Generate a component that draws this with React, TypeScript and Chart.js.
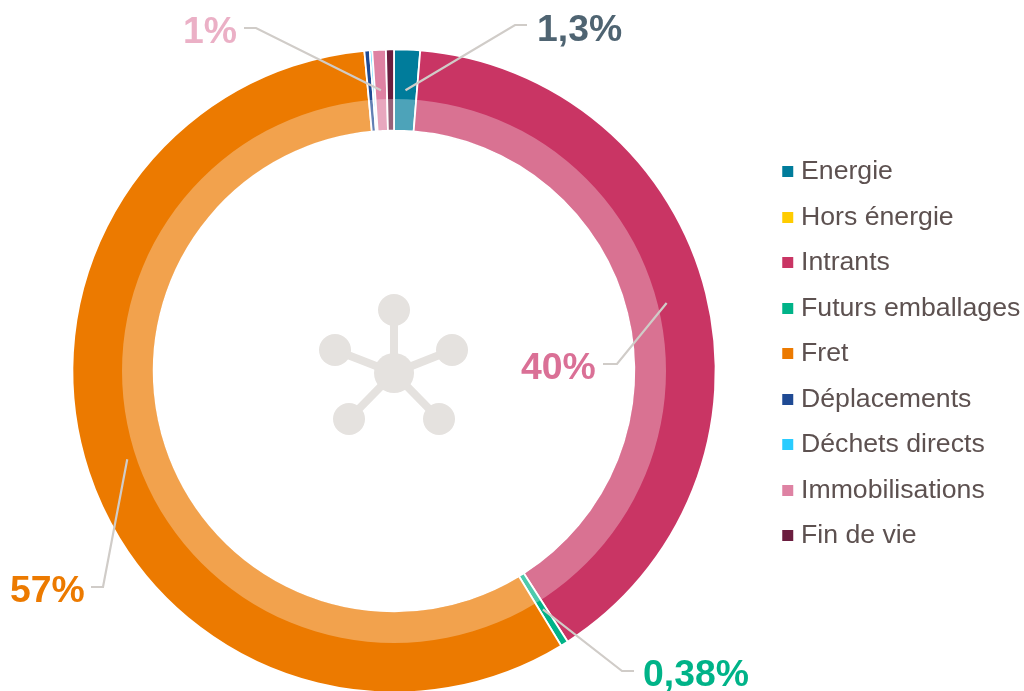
import React, { useEffect, useRef } from "react";
import { Chart, registerables } from "chart.js";

Chart.register(...registerables);

const categories = ["Energie", "Hors énergie", "Intrants", "Futurs emballages", "Fret", "Déplacements", "Déchets directs", "Immobilisations", "Fin de vie"];
const values = [1.3, 0, 39.6, 0.38, 57.2, 0.27, 0.12, 0.68, 0.4];
const colors = ["#007C9B", "#FFCC00", "#C93564", "#00B388", "#EC7A00", "#1F4A94", "#29CCFF", "#DE82A3", "#6B1D3F"];

const calloutTexts = ["1,3%", "40%", "0,38%", "57%", "1%"];
const calloutSlices = [0, 2, 3, 4, 7];
const calloutColors = ["#4F6472", "#DA7096", "#00B388", "#EC7A00", "#EBB0C6"];
// elbow, end of leader, and text anchor for each callout
const calloutLayout = [
  { elbow: [515, 25], end: [527, 25], tx: 537, ty: 41 },
  { elbow: [617, 364], end: [603, 364], tx: 521, ty: 379 },
  { elbow: [622, 671], end: [634, 671], tx: 643, ty: 686 },
  { elbow: [103, 587], end: [91, 587], tx: 10, ty: 602 },
  { elbow: [256, 28], end: [244, 28], tx: 183, ty: 43 },
];

// legend marker: the colour square sits in a wider transparent canvas
function legendMarker(color: string) {
  const c = document.createElement("canvas");
  c.width = 20;
  c.height = 11;
  const g = c.getContext("2d")!;
  g.fillStyle = color;
  g.fillRect(5, 0, 11, 11);
  return c;
}

const overlayPlugin = {
  id: "overlay",
  beforeDatasetsDraw(chart: any) {
    const arc = chart.getDatasetMeta(0).data[0];
    const { x, y } = arc;
    const { ctx } = chart;
    ctx.save();
    ctx.fillStyle = "#E5E2DF";
    ctx.strokeStyle = "#E5E2DF";
    ctx.lineWidth = 8;
    const cy = y + 2;
    const sats = [[0, -63], [58, -23], [-59, -23], [45, 46], [-45, 46]];
    for (const [dx, dy] of sats) {
      ctx.beginPath();
      ctx.moveTo(x, cy);
      ctx.lineTo(x + dx, cy + dy);
      ctx.stroke();
      ctx.beginPath();
      ctx.arc(x + dx, cy + dy, 16, 0, Math.PI * 2);
      ctx.fill();
    }
    ctx.beginPath();
    ctx.arc(x, cy, 20, 0, Math.PI * 2);
    ctx.fill();
    ctx.restore();
  },
  afterDatasetsDraw(chart: any) {
    const meta = chart.getDatasetMeta(0);
    const { x, y } = meta.data[0];
    const { ctx } = chart;
    ctx.save();
    // lighter inner band
    ctx.fillStyle = "rgba(255,255,255,0.3)";
    ctx.beginPath();
    ctx.arc(x, y, 272, 0, Math.PI * 2);
    ctx.arc(x, y, 241, 0, Math.PI * 2, true);
    ctx.fill();
    // callouts
    calloutTexts.forEach((text, i) => {
      const p = meta.data[calloutSlices[i]].getCenterPoint();
      const l = calloutLayout[i];
      ctx.strokeStyle = "#D0CCC8";
      ctx.lineWidth = 2.2;
      ctx.beginPath();
      ctx.moveTo(p.x, p.y);
      ctx.lineTo(l.elbow[0], l.elbow[1]);
      ctx.lineTo(l.end[0], l.end[1]);
      ctx.stroke();
      ctx.fillStyle = calloutColors[i];
      ctx.font = 'bold 37.33px "Liberation Sans"';
      ctx.textAlign = "left";
      ctx.textBaseline = "alphabetic";
      ctx.fillText(text, l.tx, l.ty);
    });
    ctx.restore();
  },
};

export default function App() {
  const ref = useRef<HTMLCanvasElement>(null);
  useEffect(() => {
    const chart = new Chart(ref.current!, {
      type: "doughnut",
      data: {
        labels: categories,
        datasets: [{ data: values, backgroundColor: colors, borderColor: "#FFFFFF", borderWidth: 1.8 }],
      },
      options: {
        animation: false,
        responsive: false,
        cutout: "74.73%",
        layout: { padding: { left: 20.16, right: -6.3, top: 48.5, bottom: 106.5 } },
        plugins: {
          tooltip: { enabled: false },
          legend: {
            position: "right",
            align: "start",
            title: { display: true, text: " ", color: "rgba(0,0,0,0)", font: { size: 10, lineHeight: 1.2 }, padding: { top: 39.5, bottom: 39.5 } },
            labels: {
              usePointStyle: true,
              boxHeight: 1,
              boxWidth: 1,
              padding: 18.83,
              color: "#5D5150",
              font: { family: '"Liberation Sans"', size: 26.67 },
              generateLabels(c: any) {
                return (Chart as any).overrides.doughnut.plugins.legend.labels.generateLabels(c).map((it: any, i: number) => ({
                  ...it,
                  pointStyle: legendMarker(colors[i]),
                  fontColor: "#5D5150",
                }));
              },
            },
          },
        },
      } as any,
      plugins: [overlayPlugin],
    });
    return () => chart.destroy();
  }, []);
  return (
    <div style={{ position: "absolute", left: 0, top: 0, width: 1024, height: 691, overflow: "hidden", background: "#fff" }}>
      <canvas ref={ref} width={1024} height={800} style={{ display: "block" }} />
    </div>
  );
}
